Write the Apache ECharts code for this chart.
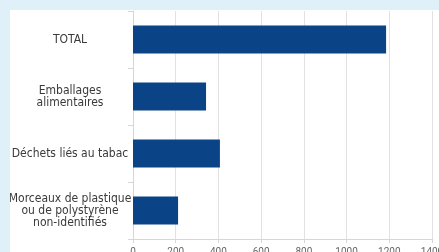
<!DOCTYPE html>
<html>
<head>
<meta charset="utf-8">
<script src="https://cdn.jsdelivr.net/npm/echarts@6/dist/echarts.min.js"></script>
<style>
  html, body { margin: 0; padding: 0; }
  body { width: 439px; height: 252px; background: #dff0f8; overflow: hidden; position: relative; }
  #chart { position: absolute; left: 10px; top: 10px; width: 429px; height: 242px; background: #fff; }
</style>
</head>
<body>
<div id="chart"></div>
<script>
// catégories et valeurs
const categories = [
  "TOTAL",
  "Emballages\nalimentaires",
  "Déchets liés au tabac",
  "Morceaux de plastique\nou de polystyrène\nnon-identifiés"
];
const values = [1185, 342, 407, 211];
const xTicks = [0, 200, 400, 600, 800, 1000, 1200, 1400];

const mychart = echarts.init(document.getElementById("chart"));
mychart.setOption({
  animation: false,
  grid: { left: 123, right: 7, top: 1, bottom: 13, outerBoundsMode: "none", containLabel: false },
  xAxis: {
    type: "value",
    min: xTicks[0],
    max: xTicks[xTicks.length - 1],
    interval: 200,
    axisLine: { show: true, lineStyle: { color: "#d6d6d6" } },
    axisTick: { show: true, length: 4, lineStyle: { color: "#d6d6d6" } },
    splitLine: { show: true, lineStyle: { color: "#e2e2e2" } },
    axisLabel: {
      color: "#666",
      fontSize: 10,
      margin: 8,
      fontFamily: "Roboto, sans-serif",
      formatter: (v) => String(v)
    }
  },
  yAxis: {
    type: "category",
    inverse: true,
    data: categories,
    axisLine: { show: true, lineStyle: { color: "#d6d6d6" } },
    axisTick: { show: true, length: 5, lineStyle: { color: "#d6d6d6" } },
    axisLabel: {
      color: "#3a3a3a",
      fontSize: 12,
      lineHeight: 12,
      align: "center",
      margin: 63,
      fontFamily: "'DejaVu Sans Condensed', sans-serif"
    }
  },
  series: [
    {
      type: "bar",
      data: values,
      barWidth: "49%",
      itemStyle: { color: "#0b4486" }
    }
  ]
});
</script>
</body>
</html>
